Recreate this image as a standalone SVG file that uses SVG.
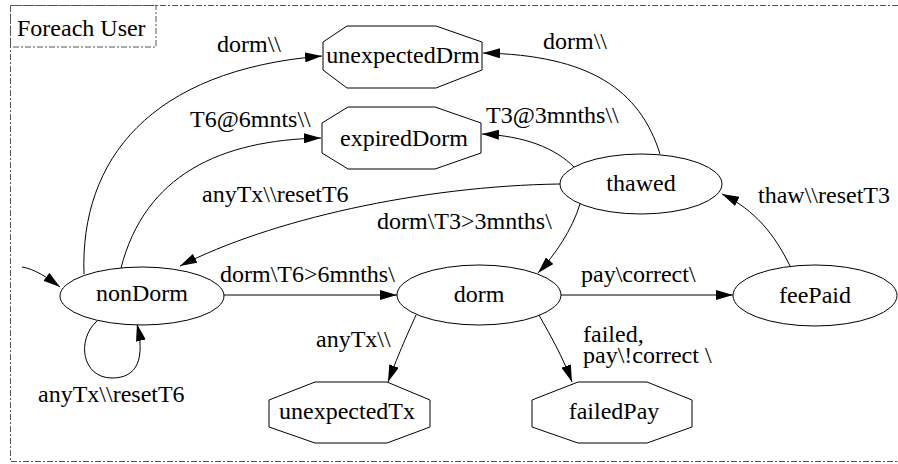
<svg xmlns="http://www.w3.org/2000/svg" width="898" height="464" viewBox="0 0 898 464">
<style>
text{font-family:"Liberation Serif","Times New Roman",serif;font-size:24px;fill:#000}
.n{fill:#fff;stroke:#000;stroke-width:1}
.c{text-anchor:middle}
.e{fill:none;stroke:#000;stroke-width:1}
.frame{fill:none;stroke:#555;stroke-width:1;stroke-dasharray:6,2,2,2}
</style>
<defs>
<marker id="ah" markerUnits="userSpaceOnUse" markerWidth="18" markerHeight="10" refX="17" refY="5" orient="auto">
<path d="M0,0 L17,5 L0,10 z" fill="#000"/>
</marker>
</defs>
<rect width="898" height="464" fill="#fff"/>
<g id="cluster">
<path class="frame" d="M910,5.5 L10.5,5.5 L10.5,461.5 L910,461.5"/>
<rect class="frame" x="10.5" y="5.5" width="145.5" height="41.5"/>
<text x="17" y="36">Foreach User</text>
</g>
<g id="edges">
<path class="e" marker-end="url(#ah)" d="M22,267 C35,269 48,278 60,287"/>
<path class="e" marker-end="url(#ah)" d="M97,321 C76,340 82,378 112,378 C138,378 145,358 137,324"/>
<path class="e" marker-end="url(#ah)" d="M84,274 C80,160 150,70 322,56"/>
<path class="e" marker-end="url(#ah)" d="M121,268 C145,175 220,140 321,138"/>
<path class="e" marker-end="url(#ah)" d="M560,184 C420,186 270,220 180,266"/>
<path class="e" marker-end="url(#ah)" d="M660,154 C640,90 590,55 483,53"/>
<path class="e" marker-end="url(#ah)" d="M574,167 C555,148 525,136 482,134"/>
<path class="e" marker-end="url(#ah)" d="M580,204 C572,230 555,255 538,273"/>
<path class="e" marker-end="url(#ah)" d="M224,295 L397,295"/>
<path class="e" marker-end="url(#ah)" d="M561,295 L733,295"/>
<path class="e" marker-end="url(#ah)" d="M790,266 C775,235 755,210 722,194"/>
<path class="e" marker-end="url(#ah)" d="M416,315 C408,333 400,350 388,382"/>
<path class="e" marker-end="url(#ah)" d="M539,315 C550,335 562,355 572,382"/>
<text x="38" y="402">anyTx\\resetT6</text>
<text x="217" y="52">dorm\\</text>
<text x="190" y="127">T6@6mnts\\</text>
<text x="202" y="202">anyTx\\resetT6</text>
<text x="377" y="229">dorm\T3&gt;3mnths\</text>
<text x="543" y="49">dorm\\</text>
<text x="486" y="123">T3@3mnths\\</text>
<text x="220" y="282">dorm\T6&gt;6mnths\</text>
<text x="581" y="282">pay\correct\</text>
<text x="758" y="203">thaw\\resetT3</text>
<text x="316" y="347">anyTx\\</text>
<text x="583" y="342">failed,</text>
<text x="583" y="363">pay\!correct \</text>
</g>
<g id="unexpectedDrm">
<polygon class="n" points="347,26 436,26 482,42 482,70 436,88 347,88 323,70 323,42"/>
<text class="c" x="403" y="63">unexpectedDrm</text>
</g>
<g id="expiredDorm">
<polygon class="n" points="348,107 435,107 481,123 481,153 435,169 348,169 322,153 322,123"/>
<text class="c" x="404" y="146">expiredDorm</text>
</g>
<g id="thawed">
<ellipse class="n" cx="641" cy="184" rx="81" ry="30"/>
<text class="c" x="641" y="191">thawed</text>
</g>
<g id="nonDorm">
<ellipse class="n" cx="142" cy="296" rx="82" ry="29"/>
<text class="c" x="142" y="301">nonDorm</text>
</g>
<g id="dorm">
<ellipse class="n" cx="479" cy="295" rx="82" ry="30"/>
<text class="c" x="479" y="302">dorm</text>
</g>
<g id="feePaid">
<ellipse class="n" cx="815" cy="295.5" rx="82" ry="30.5"/>
<text class="c" x="815" y="303">feePaid</text>
</g>
<g id="unexpectedTx">
<polygon class="n" points="315,382 387,382 430,400 430,427 387,443 315,443 269,427 269,400"/>
<text class="c" x="347" y="419">unexpectedTx</text>
</g>
<g id="failedPay">
<polygon class="n" points="578,382 647,382 692,400 692,427 647,443 578,443 532,427 532,400"/>
<text class="c" x="614" y="419">failedPay</text>
</g>
</svg>
